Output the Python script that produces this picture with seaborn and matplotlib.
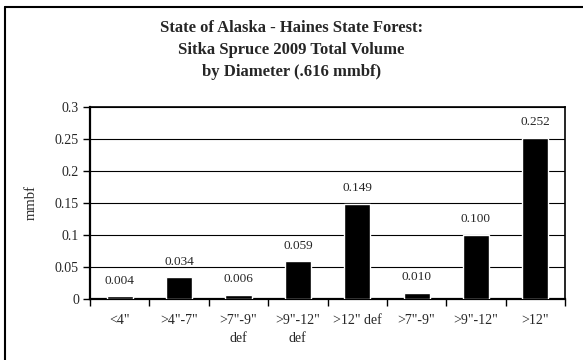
import numpy as np
import pandas as pd
import matplotlib.pyplot as plt
import seaborn as sns
from matplotlib.lines import Line2D

# Datos
categorias = ['<4"', '>4"-7"', '>7"-9"\ndef', '>9"-12"\ndef', '>12" def', '>7"-9"', '>9"-12"', '>12"']
volumen = [0.004, 0.034, 0.006, 0.059, 0.149, 0.010, 0.100, 0.252]
ticks_y = [0, 0.05, 0.1, 0.15, 0.2, 0.25, 0.3]
etiquetas_y = ['0', '0.05', '0.1', '0.15', '0.2', '0.25', '0.3']

df = pd.DataFrame({'diametro': categorias, 'mmbf': volumen})

sns.set_style('white')
plt.rcParams['font.family'] = ['Liberation Serif', 'DejaVu Serif']

fig = plt.figure(figsize=(5.83, 3.6), dpi=100)
ax = fig.add_axes([90 / 583, 61 / 360, 475 / 583, 192 / 360])

sns.barplot(data=df, x='diametro', y='mmbf', color='black', width=0.44,
            saturation=1, ax=ax, zorder=3)

# Etiquetas de valores
for i, v in enumerate(volumen):
    ax.annotate(f'{v:.3f}', (i, v), xytext=(0, 7), textcoords='offset points',
                ha='center', va='bottom', fontsize=9.5)

ax.set_ylim(0, 0.3)
ax.set_xlim(-0.5, len(categorias) - 0.5)
ax.set_yticks(ticks_y)
ax.set_yticklabels(etiquetas_y, fontsize=10)
ax.set_xticks(range(len(categorias)))
ax.set_xticklabels(categorias, fontsize=10, linespacing=1.45)
ax.tick_params(axis='x', length=0, pad=11)
ax.set_xticks(np.arange(-0.5, len(categorias)), minor=True)
ax.tick_params(axis='x', which='minor', length=5, width=1, color='black', direction='out', bottom=True)
ax.tick_params(axis='y', length=5, width=1, color='black', direction='out', left=True, pad=3)

ax.yaxis.grid(True, color='black', linewidth=0.8, zorder=0)
ax.set_axisbelow(True)
for lado in ['top', 'right']:
    ax.spines[lado].set_color('black')
    ax.spines[lado].set_linewidth(1.2)
for lado in ['left', 'bottom']:
    ax.spines[lado].set_color('black')
    ax.spines[lado].set_linewidth(1.6)

ax.set_xlabel('')
ax.set_ylabel('mmbf', fontsize=10.5, labelpad=12)

fig.text(0.5, 1 - 50 / 360, 'State of Alaska - Haines State Forest:\nSitka Spruce 2009 Total Volume\nby Diameter (.616 mmbf)',
         ha='center', va='center', fontsize=12, fontweight='bold', linespacing=1.5)

# Borde exterior (solo izquierda y arriba visibles)
fig.lines.append(Line2D([5 / 583, 5 / 583], [0, 1 - 7 / 360], transform=fig.transFigure,
                        color='black', linewidth=1.5))
fig.lines.append(Line2D([5 / 583, 1], [1 - 7 / 360, 1 - 7 / 360], transform=fig.transFigure,
                        color='black', linewidth=1.5))

plt.savefig('out.png', dpi=100)
